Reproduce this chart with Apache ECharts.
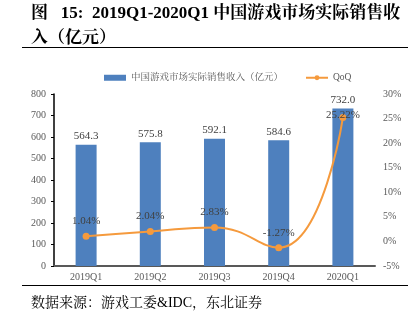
<!DOCTYPE html>
<html><head><meta charset="utf-8">
<script src="https://cdn.jsdelivr.net/npm/echarts@6/dist/echarts.min.js"></script>
<style>html,body{margin:0;padding:0;background:#fff}#c{width:414px;height:332px}</style>
</head><body><div id="c"></div>
<script>
const categories = ['2019Q1','2019Q2','2019Q3','2019Q4','2020Q1'];
const revenue = [564.3, 575.8, 592.1, 584.6, 732.0];
const qoq = [1.04, 2.04, 2.83, -1.27, 25.22];
const leftTicks = {min: 0, max: 800, interval: 100};
const rightTicks = {min: -5, max: 30, interval: 5};
const titleLine1 = '图   15:  2019Q1-2020Q1 中国游戏市场实际销售收';
const titleLine2 = '入（亿元）';
const sourceText = '数据来源：游戏工委&IDC，东北证券';
const serif = '"Liberation Serif", "Noto Serif CJK SC", "Noto Sans CJK SC", serif';
const chart = echarts.init(document.getElementById('c'));
chart.setOption({
  animation: false,
  textStyle: {fontFamily: serif},
  graphic: [
    {type: 'text', left: 31, top: 5, style: {text: titleLine1, font: 'bold 17px ' + serif, fill: '#000'}},
    {type: 'text', left: 31, top: 30, style: {text: titleLine2, font: 'bold 17px ' + serif, fill: '#000'}},
    {type: 'line', shape: {x1: 22, y1: 47.5, x2: 408, y2: 47.5}, style: {stroke: '#000', lineWidth: 1}},
    {type: 'line', shape: {x1: 22, y1: 285.5, x2: 408, y2: 285.5}, style: {stroke: '#000', lineWidth: 1}},
    {type: 'text', left: 31, top: 296, style: {text: sourceText, font: '14px ' + serif, fill: '#000'}}
  ],
  legend: {
    top: 68, left: 99, itemGap: 22, itemWidth: 22, itemHeight: 6,
    textStyle: {fontSize: 9.5, color: '#595959', fontFamily: serif},
    data: [{name: '中国游戏市场实际销售收入（亿元）', icon: 'rect'}, {name: 'QoQ'}]
  },
  grid: {left: 54, right: 39, top: 94, bottom: 66},
  xAxis: {
    type: 'category', data: categories,
    axisLine: {lineStyle: {color: '#595959', width: 2}},
    axisTick: {show: false},
    axisLabel: {color: '#595959', fontSize: 10, margin: 6, fontFamily: serif}
  },
  yAxis: [
    {type: 'value', min: leftTicks.min, max: leftTicks.max, interval: leftTicks.interval,
     axisLine: {show: true, lineStyle: {color: '#000', width: 1.5}},
     axisTick: {show: true, inside: false, length: 3, lineStyle: {color: '#000'}},
     splitLine: {show: false},
     axisLabel: {color: '#595959', fontSize: 10, margin: 8, fontFamily: serif}},
    {type: 'value', min: rightTicks.min, max: rightTicks.max, interval: rightTicks.interval,
     axisLine: {show: false}, axisTick: {show: false}, splitLine: {show: false},
     axisLabel: {color: '#595959', fontSize: 10, margin: 8, formatter: '{value}%', fontFamily: serif}}
  ],
  series: [
    {name: '中国游戏市场实际销售收入（亿元）', type: 'bar', data: revenue, barWidth: 21,
     itemStyle: {color: '#4E80BE'},
     label: {show: true, position: 'top', distance: 3, color: '#404040', fontSize: 11,
       fontFamily: serif, formatter: p => p.value.toFixed(1)}},
    {name: 'QoQ', type: 'line', yAxisIndex: 1, smooth: true,
     data: qoq.map((v, i) => i === qoq.length - 1
       ? {value: v, label: {position: 'top', distance: -7}}
       : v),
     symbol: 'circle', symbolSize: 7,
     lineStyle: {color: '#F59A3D', width: 2}, itemStyle: {color: '#F59A3D'},
     label: {show: true, position: 'top', distance: 6, color: '#404040', fontSize: 11,
       fontFamily: serif, formatter: p => p.value.toFixed(2) + '%'}}
  ]
});
</script></body></html>
